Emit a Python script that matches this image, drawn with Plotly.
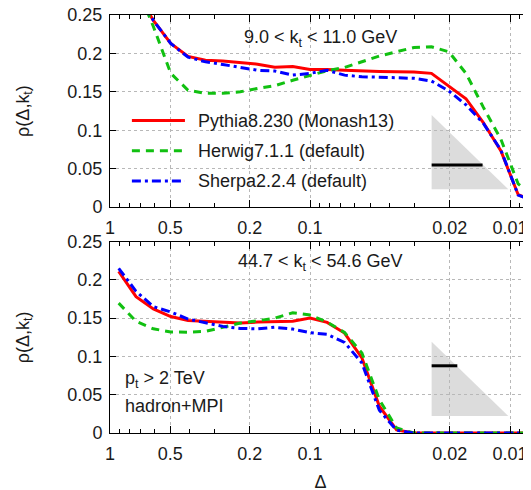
import plotly.graph_objects as go
from plotly.subplots import make_subplots

# Bin centres in Delta (log-spaced bins)
delta = [0.905, 0.741, 0.607, 0.497, 0.407, 0.333, 0.273, 0.223, 0.183, 0.150,
         0.122, 0.100, 0.0821, 0.0672, 0.0550, 0.0450, 0.0369, 0.0302, 0.0247,
         0.0202, 0.0166, 0.0136, 0.0111, 0.00910, 0.00745]

# Top panel: 9.0 < kt < 11.0 GeV
pythia_top = [0.33, 0.28, 0.243, 0.213, 0.196, 0.191, 0.190, 0.188, 0.186, 0.182,
              0.183, 0.179, 0.179, 0.178, 0.177, 0.1765, 0.176, 0.1757, 0.174,
              0.157, 0.141, 0.110, 0.073, 0.016, 0.007]
herwig_top = [0.34, 0.29, 0.235, 0.174, 0.152, 0.148, 0.148, 0.150, 0.1544, 0.158,
              0.165, 0.171, 0.1774, 0.1817, 0.189, 0.1965, 0.2021, 0.2077, 0.2086,
              0.202, 0.174, 0.130, 0.088, 0.030, 0.012]
sherpa_top = [0.33, 0.28, 0.243, 0.213, 0.195, 0.189, 0.1856, 0.1817, 0.178, 0.177,
              0.1717, 0.174, 0.178, 0.1717, 0.1695, 0.169, 0.168, 0.1675, 0.164,
              0.151, 0.133, 0.109, 0.074, 0.0155, 0.007]

# Bottom panel: 44.7 < kt < 54.6 GeV
pythia_bot = [0.211, 0.178, 0.162, 0.152, 0.147, 0.1457, 0.1444, 0.1435, 0.1448, 0.1457,
              0.146, 0.150, 0.1444, 0.1305, 0.098, 0.035, 0.004, 0, 0, 0, 0, 0, 0, 0, 0]
herwig_bot = [0.1696, 0.1457, 0.136, 0.132, 0.1314, 0.1327, 0.138, 0.1435, 0.1465, 0.150,
              0.157, 0.154, 0.1448, 0.1313, 0.1043, 0.0435, 0.0065, 0, 0, 0, 0, 0, 0, 0, 0]
sherpa_bot = [0.215, 0.185, 0.165, 0.158, 0.1487, 0.1435, 0.1392, 0.1365, 0.136, 0.138,
              0.1357, 0.131, 0.1288, 0.1183, 0.0914, 0.0296, 0.0036, 0, 0, 0, 0, 0, 0, 0, 0]

series_names = ["Pythia8.230 (Monash13)", "Herwig7.1.1 (default)", "Sherpa2.2.4 (default)"]
colors = ["#ff0000", "#11c011", "#0000ff"]
dashes = ["solid", "8px,6px", "9px,4px,3px,4px"]

x_tickvals = [1, 0.5, 0.2, 0.1, 0.02, 0.01]
x_ticktext = ["1", "0.5", "0.2", "0.1", "0.02", "0.01"]
x_minor = [0.9, 0.8, 0.7, 0.6, 0.4, 0.3, 0.09, 0.08, 0.07, 0.06, 0.05, 0.04, 0.03,
           0.009, 0.008]
y_tickvals = [0, 0.05, 0.1, 0.15, 0.2, 0.25]
y_ticktext = ["0", "0.05", "0.1", "0.15", "0.2", "0.25"]

FONT = "Liberation Sans, Arial, Helvetica, sans-serif"
TXT = "#1a1a1a"

fig = make_subplots(rows=2, cols=1, vertical_spacing=0.05)

for row, data in [(1, [pythia_top, herwig_top, sherpa_top]),
                  (2, [pythia_bot, herwig_bot, sherpa_bot])]:
    for name, vals, c, d in zip(series_names, data, colors, dashes):
        fig.add_trace(go.Scatter(x=delta, y=vals, mode="lines", name=name,
                                 line=dict(color=c, width=3, dash=d),
                                 showlegend=False),
                      row=row, col=1)

xaxis_style = dict(type="log", range=[0, -2.105], tickvals=x_tickvals, ticktext=x_ticktext,
                   ticks="inside", ticklen=7, tickwidth=1, tickcolor="black",
                   showline=True, linecolor="black", linewidth=1, mirror="ticks",
                   showgrid=True, gridcolor="#b8b8b8", griddash="dot", gridwidth=1,
                   zeroline=False, ticklabelstandoff=4, ticklabeloverflow="allow",
                   tickfont=dict(family=FONT, size=18, color=TXT),
                   minor=dict(tickvals=x_minor, ticks="inside", ticklen=4,
                              tickcolor="black", showgrid=False))
yaxis_style = dict(range=[0, 0.25], tickvals=y_tickvals, ticktext=y_ticktext,
                   ticks="inside", ticklen=6, tickwidth=1, tickcolor="black",
                   showline=True, linecolor="black", linewidth=1, mirror="ticks",
                   showgrid=True, gridcolor="#b8b8b8", griddash="dot", gridwidth=1,
                   zeroline=False, ticklabelstandoff=3, ticklabeloverflow="allow",
                   tickfont=dict(family=FONT, size=18, color=TXT),
                   title=dict(text="ρ(Δ,k<sub>t</sub>)", standoff=33,
                              font=dict(family=FONT, size=18, color=TXT)))

fig.update_xaxes(**xaxis_style)
fig.update_yaxes(**yaxis_style)
fig.update_layout(
    xaxis=dict(domain=[0, 1]),
    yaxis=dict(domain=[0.5407, 1]),
    xaxis2=dict(domain=[0, 1], title=dict(text="Δ", standoff=12,
                font=dict(family=FONT, size=18, color=TXT))),
    yaxis2=dict(domain=[0, 0.4581]),
)

shapes = []
annotations = []

# Legend (top panel)
leg_y = [0.450, 0.293, 0.135]
for name, c, d, yy in zip(series_names, colors, dashes, leg_y):
    shapes.append(dict(type="line", xref="x domain", yref="y domain",
                       x0=0.052, x1=0.178, y0=yy, y1=yy,
                       line=dict(color=c, width=3, dash=d), layer="above"))
    annotations.append(dict(xref="x domain", yref="y domain", x=0.205, y=yy,
                            text=name, showarrow=False, xanchor="left", yanchor="middle",
                            font=dict(family=FONT, size=18, color=TXT)))

# Triangles (Lund-plane sketches)
shapes.append(dict(type="path", xref="x domain", yref="y domain",
                   path="M 0.764,0.479 L 0.764,0.092 L 0.946,0.092 Z",
                   fillcolor="#dcdcdc", line=dict(width=0), layer="below"))
shapes.append(dict(type="line", xref="x domain", yref="y domain",
                   x0=0.764, x1=0.885, y0=0.219, y1=0.219,
                   line=dict(color="black", width=3), layer="above"))
shapes.append(dict(type="path", xref="x2 domain", yref="y2 domain",
                   path="M 0.764,0.477 L 0.764,0.089 L 0.946,0.089 Z",
                   fillcolor="#dcdcdc", line=dict(width=0), layer="below"))
shapes.append(dict(type="line", xref="x2 domain", yref="y2 domain",
                   x0=0.764, x1=0.825, y0=0.351, y1=0.351,
                   line=dict(color="black", width=3), layer="above"))

annotations.append(dict(xref="x domain", yref="y domain", x=0.501, y=0.88,
                        text="9.0 < k<sub>t</sub> < 11.0 GeV", showarrow=False,
                        xanchor="center", yanchor="middle",
                        font=dict(family=FONT, size=18, color=TXT)))
annotations.append(dict(xref="x2 domain", yref="y2 domain", x=0.501, y=0.893,
                        text="44.7 < k<sub>t</sub> < 54.6 GeV", showarrow=False,
                        xanchor="center", yanchor="middle",
                        font=dict(family=FONT, size=18, color=TXT)))
annotations.append(dict(xref="x2 domain", yref="y2 domain", x=0.031, y=0.277,
                        text="p<sub>t</sub> > 2 TeV", showarrow=False,
                        xanchor="left", yanchor="middle",
                        font=dict(family=FONT, size=18, color=TXT)))
annotations.append(dict(xref="x2 domain", yref="y2 domain", x=0.031, y=0.141,
                        text="hadron+MPI", showarrow=False,
                        xanchor="left", yanchor="middle",
                        font=dict(family=FONT, size=18, color=TXT)))

# The page body adds an 8px offset; margins compensate so the plot sits where
# the reference has it inside the 531x490 window.
fig.update_layout(
    width=531, height=490,
    margin=dict(l=102, r=8, t=7, b=65, autoexpand=False),
    paper_bgcolor="white", plot_bgcolor="white",
    shapes=shapes, annotations=annotations,
    showlegend=False,
    font=dict(family=FONT, size=18, color=TXT),
)

fig.write_html("out.html")
